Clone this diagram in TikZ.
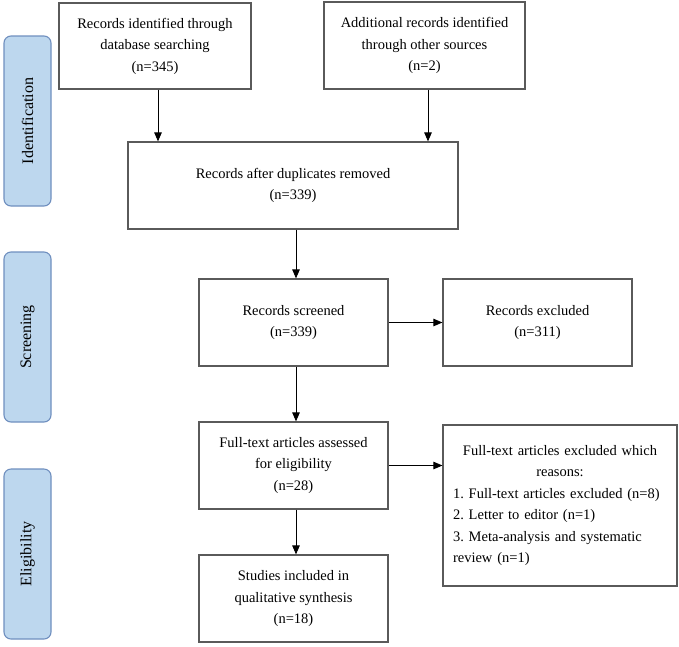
\documentclass[tikz,border=0pt]{standalone}
\usepackage{fontspec}
\setmainfont{Liberation Serif}
\usetikzlibrary{arrows.meta}
\definecolor{boxgray}{HTML}{5A5A5A}
\definecolor{sidefill}{HTML}{BDD7EE}
\definecolor{sideborder}{HTML}{6F8FBF}
\frenchspacing
\begin{document}
\begin{tikzpicture}[x=1pt,y=-1pt,
  box/.style={draw=boxgray, line width=1.2pt, align=center, inner sep=0pt,
    font=\fontsize{14.5}{21.5}\selectfont},
  side/.style={draw=sideborder, fill=sidefill, line width=1.1pt, rounded corners=7pt,
    rotate=90, minimum width=170pt, minimum height=47pt, inner sep=0pt,
    font=\fontsize{16}{18}\selectfont},
  arr/.style={line width=0.9pt, -{Triangle[length=9pt,width=7.5pt]}}]
\useasboundingbox (0,0) rectangle (679,646);
% side bars
\node[side] (sid) at (27.5,121) {Identification};
\node[side] (ssc) at (27.5,337) {Screening};
\node[side] (sel) at (27.5,554) {Eligibility};
% boxes
\node[box, minimum width=192pt, minimum height=86pt] (b1) at (155,46)
  {Records identified through\\database searching\\(n=345)};
\node[box, minimum width=201pt, minimum height=87pt] (b2) at (424.5,45.5)
  {Additional records identified\\through other sources\\(n=2)};
\node[box, minimum width=330pt, minimum height=87pt] (b3) at (293,185.5)
  {Records after duplicates removed\\(n=339)};
\node[box, minimum width=189pt, minimum height=87pt] (b4) at (293.5,322.5)
  {Records screened\\(n=339)};
\node[box, minimum width=189pt, minimum height=87pt] (b5) at (537.5,322.5)
  {Records excluded\\(n=311)};
\node[box, minimum width=189pt, minimum height=87pt] (b6) at (293.5,465.5)
  {Full-text articles assessed\\for eligibility\\(n=28)};
\node[box, minimum width=189pt, minimum height=87pt] (b7) at (293.5,598.5)
  {Studies included in\\qualitative synthesis\\(n=18)};
\node[box, minimum width=234pt, minimum height=161pt, text width=214pt, align=left] (b8) at (560,505.5)
  {\makebox[\linewidth]{Full-text articles excluded which}\\
   \makebox[\linewidth]{reasons:}\\
   1. Full-text articles excluded (n=8)\\
   2. Letter to editor (n=1)\\
   3. Meta-analysis and systematic\\
   review (n=1)};
% arrows
\draw[arr] ([xshift=3pt]b1.south) -- ([xshift=3pt]b1.south |- b3.north);
\draw[arr] ([xshift=3.5pt]b2.south) -- ([xshift=3.5pt]b2.south |- b3.north);
\draw[arr] ([xshift=3pt]b3.south) -- ([xshift=3pt]b3.south |- b4.north);
\draw[arr] (b4.east) -- (b5.west);
\draw[arr] ([xshift=2.5pt]b4.south) -- ([xshift=2.5pt]b4.south |- b6.north);
\draw[arr] (b6.east) -- (b6.east -| b8.west);
\draw[arr] ([xshift=2.5pt]b6.south) -- ([xshift=2.5pt]b6.south |- b7.north);
\end{tikzpicture}
\end{document}
